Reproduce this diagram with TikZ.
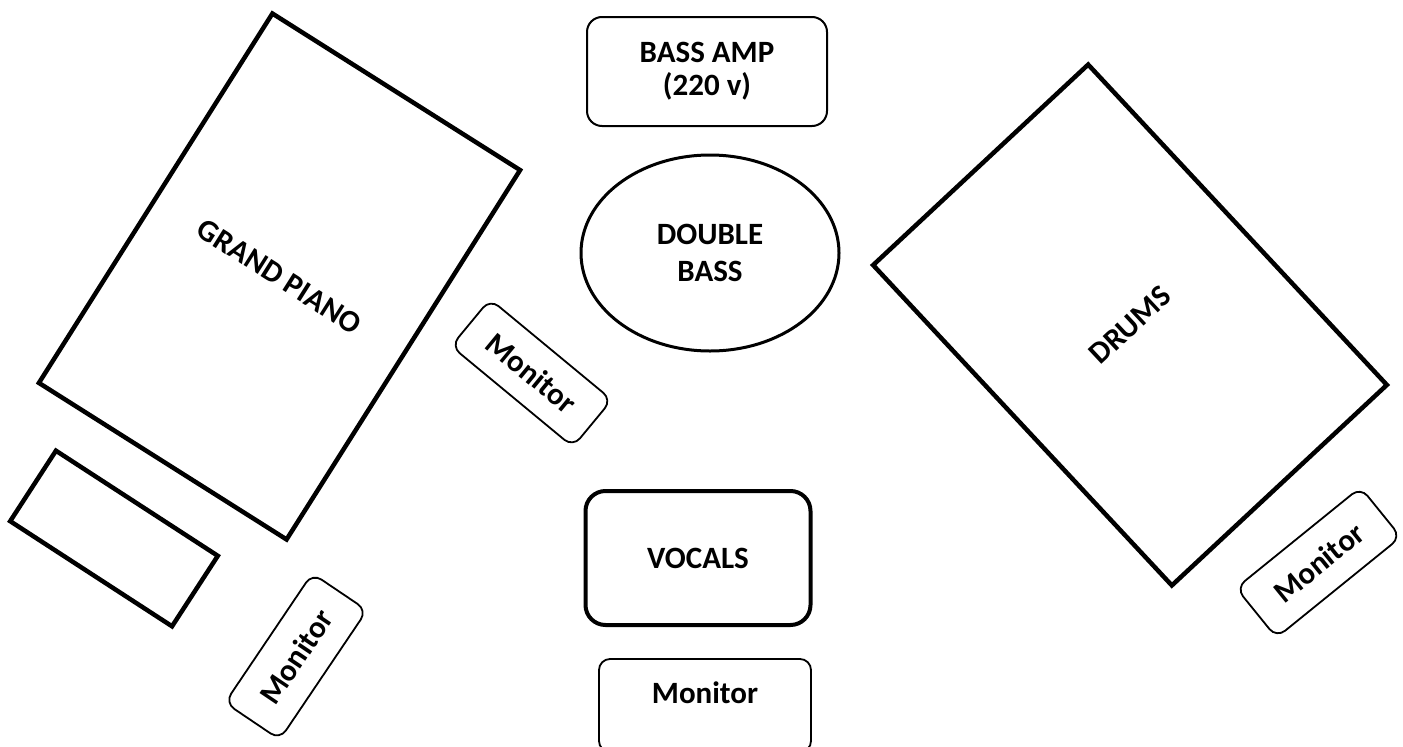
\documentclass[tikz,border=0pt]{standalone}
\usepackage{fontspec}
\setmainfont{Carlito}
\usetikzlibrary{shapes.geometric}
\begin{document}
\begin{tikzpicture}[x=1pt,y=-1pt,
  every node/.style={font=\bfseries\fontsize{31}{35}\selectfont, inner sep=0pt, align=center},
  heavybox/.style={draw, rectangle, line width=4.5pt, line join=miter},
  monbox/.style={draw, rectangle, rounded corners=11pt, line width=1.8pt, minimum width=158pt, minimum height=63pt},
  ampbox/.style={draw, rectangle, rounded corners=15pt, line width=2pt},
  vocbox/.style={draw, rectangle, rounded corners=20pt, line width=4pt},
  bassell/.style={draw, ellipse, line width=3pt}
]
\useasboundingbox (0,0) rectangle (1403,747);

\node[heavybox, minimum width=293pt, minimum height=437pt, rotate=-32.3] (piano) at (279.5,276.5) {GRAND PIANO};
\node[heavybox, minimum width=193pt, minimum height=84pt, rotate=-33] (bench) at (114,538.5) {};
\node[heavybox, minimum width=294pt, minimum height=438pt, rotate=43] (drums) at (1130,325) {DRUMS};

\node[ampbox, minimum width=240pt, minimum height=109pt, font=\bfseries\fontsize{31}{33}\selectfont] (amp) at (707,71.5) {BASS AMP\\(220 v)};
\node[bassell, minimum width=258pt, minimum height=196pt, font=\bfseries\fontsize{31}{37}\selectfont] (dbass) at (710,253) {DOUBLE\\BASS};
\node[vocbox, minimum width=225pt, minimum height=134pt] (vocals) at (698,558) {VOCALS};

\node[monbox, minimum width=156pt, minimum height=66pt, rotate=56] (monL) at (296,656.5) {Monitor};
\node[monbox, minimum width=158pt, minimum height=61pt, rotate=-39.6] (monM) at (531.5,373) {Monitor};
\node[monbox, minimum width=160pt, minimum height=64pt, rotate=39] (monR) at (1318.5,562.5) {Monitor};
\node[monbox, minimum width=212pt, minimum height=0pt, text height=44pt, text depth=49pt, anchor=base] (monB) at (705,703) {Monitor};
\end{tikzpicture}
\end{document}
